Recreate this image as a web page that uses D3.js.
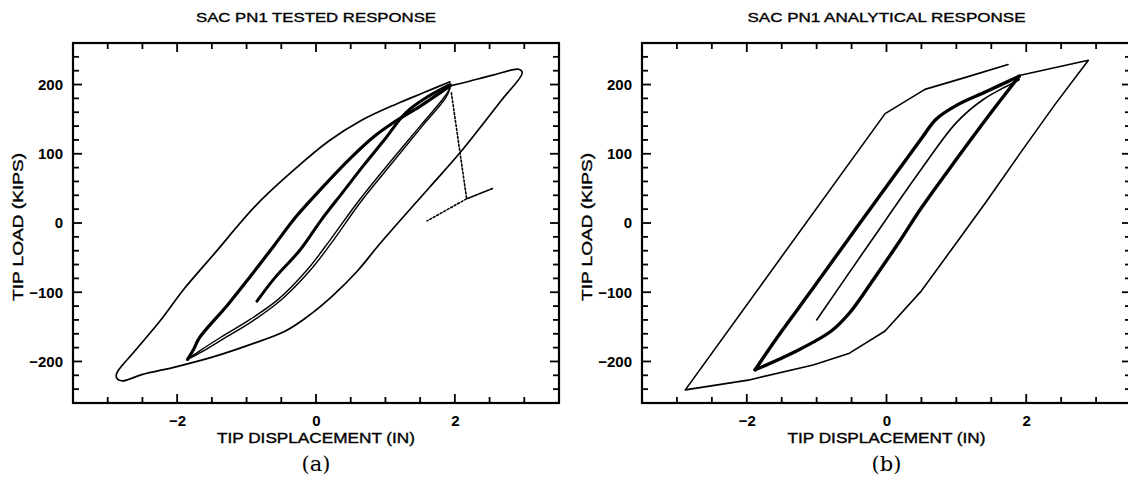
<!DOCTYPE html>
<html>
<head>
<meta charset="utf-8">
<script src="https://cdn.jsdelivr.net/npm/d3@7"></script>
<style>
  body { margin: 0; background: #fff; }
  svg { display: block; }
</style>
</head>
<body>
<svg id="chart" width="1128" height="492"></svg>
<script>
// ---- data: [tip displacement (in), tip load (kips)] ----

// (a) tested response
const testedOuter = [
  [1.93, 198], [2.14, 203], [2.56, 214], [2.92, 222], [2.97, 217], [2.66, 176],
  [2.07, 101], [1.63, 51], [0.92, -30], [0.59, -70], [0.23, -106], [-0.08, -132],
  [-0.44, -156], [-0.96, -176], [-1.47, -193], [-1.99, -207], [-2.51, -219],
  [-2.79, -228], [-2.87, -224], [-2.87, -217], [-2.61, -185], [-2.25, -142],
  [-1.89, -94], [-1.47, -45], [-0.85, 27], [-0.28, 80], [0.18, 118], [0.65, 148],
  [1.16, 172], [1.52, 187], [1.93, 204]
];
const testedLoop2Up = [
  [-1.85, -197], [-1.76, -182], [-1.68, -166], [-1.27, -118], [-0.96, -79],
  [-0.6, -32], [-0.28, 10], [0.08, 50], [0.49, 93], [0.85, 126], [1.16, 148],
  [1.52, 170], [1.93, 198]
];
const testedLoop2DownA = [
  [1.93, 195], [1.85, 182], [1.5, 140], [1.1, 92], [0.6, 30], [0.2, -25],
  [-0.13, -68], [-0.54, -110], [-0.96, -140], [-1.37, -165], [-1.68, -185], [-1.85, -197]
];
const testedLoop2DownB = [
  [1.93, 195], [1.87, 181], [1.53, 140], [1.14, 92], [0.64, 30], [0.25, -25],
  [-0.08, -68], [-0.49, -110], [-0.92, -142], [-1.33, -167], [-1.66, -187], [-1.85, -197]
];
const testedLoop1 = [
  [-0.85, -113], [-0.6, -80], [-0.23, -39], [0.08, 5], [0.39, 45], [0.7, 85],
  [1.0, 122], [1.3, 160], [1.6, 182], [1.93, 200]
];
const testedFailure = [[1.95, 188], [2.17, 35], [2.55, 50], [2.17, 35], [1.6, 3]];

// (b) analytical response
const analyticalOuter = [
  [1.9, 213], [2.89, 235], [2.41, 171], [1.95, 106], [1.43, 31], [1.02, -26],
  [0.5, -98], [-0.02, -156], [-0.53, -188], [-1.05, -205], [-1.98, -227],
  [-2.88, -241], [-0.02, 158], [0.55, 193], [1.12, 210], [1.74, 229]
];
const analyticalLoopUp = [
  [-1.88, -212], [-1.57, -166], [-1.05, -94], [-0.58, -28], [-0.12, 36],
  [0.5, 122], [0.71, 150], [1.02, 171], [1.43, 190], [1.9, 212]
];
const analyticalLoopDown = [
  [1.9, 212], [1.5, 160], [1.0, 92], [0.5, 22], [0.19, -26], [-0.17, -79],
  [-0.53, -130], [-0.79, -156], [-1.31, -186], [-1.88, -212]
];
const analyticalInner = [
  [-1.0, -140], [-0.22, -26], [0.5, 78], [1.0, 145], [1.38, 178], [1.69, 196], [1.9, 207]
];

// axes
const xDomain = [-3.5, 3.5];
const yDomain = [-260, 260];
const xMajor = [-2, 0, 2];
const xMinor = d3.range(-3.5, 3.51, 0.5);
const yMajor = [-200, -100, 0, 100, 200];
const yMinor = d3.range(-260, 261, 20);

const svg = d3.select("#chart");
const sans = "'Liberation Sans', Arial, sans-serif";

function drawPanel(opt) {
  const x = d3.scaleLinear().domain(xDomain).range([opt.left, opt.right]);
  const y = d3.scaleLinear().domain(yDomain).range([opt.bottom, opt.top]);
  const g = svg.append("g");

  // inward ticks on all four sides
  const ticks = g.append("g").attr("stroke", "#000").attr("stroke-width", 1.8);
  const xt = xMinor.map(v => ({ v, len: xMajor.includes(v) ? 9 : 6 }));
  const yt = yMinor.map(v => ({ v, len: yMajor.includes(v) ? 9 : 6 }));
  [opt.bottom, opt.top].forEach((edge, i) => {
    const dir = i === 0 ? -1 : 1;
    ticks.selectAll(null).data(xt).join("line")
      .attr("x1", d => x(d.v)).attr("x2", d => x(d.v))
      .attr("y1", edge).attr("y2", d => edge + dir * d.len);
  });
  [opt.left, opt.right].forEach((edge, i) => {
    const dir = i === 0 ? 1 : -1;
    ticks.selectAll(null).data(yt).join("line")
      .attr("y1", d => y(d.v)).attr("y2", d => y(d.v))
      .attr("x1", edge).attr("x2", d => edge + dir * d.len);
  });

  g.append("rect")
    .attr("x", opt.left).attr("y", opt.top)
    .attr("width", opt.right - opt.left).attr("height", opt.bottom - opt.top)
    .attr("fill", "none").attr("stroke", "#000").attr("stroke-width", 2.2);

  // tick labels
  const xl = g.append("g")
    .attr("transform", `translate(0,${opt.bottom})`)
    .call(d3.axisBottom(x).tickValues(xMajor).tickFormat(d3.format("d")).tickSize(0).tickPadding(12));
  const yl = g.append("g")
    .attr("transform", `translate(${opt.left},0)`)
    .call(d3.axisLeft(y).tickValues(yMajor).tickFormat(d3.format("d")).tickSize(0).tickPadding(10));
  [xl, yl].forEach(a => {
    a.select(".domain").remove();
    a.selectAll("text")
      .attr("fill", "#000")
      .style("font-family", sans)
      .style("font-size", "15px")
      .style("font-weight", "bold");
  });

  // titles, a touch heavier like the scanned lettering
  const label = sel => sel
    .attr("text-anchor", "middle")
    .attr("lengthAdjust", "spacingAndGlyphs")
    .attr("stroke", "#000").attr("stroke-width", 0.35)
    .style("font-family", sans);

  const cx = x(0);
  g.append("text").call(label)
    .attr("x", cx).attr("y", 22)
    .attr("textLength", opt.titleLen)
    .style("font-size", "13px")
    .text(opt.title);
  g.append("text").call(label)
    .attr("x", cx).attr("y", 443)
    .attr("textLength", 198)
    .style("font-size", "14px")
    .text("TIP DISPLACEMENT (IN)");
  g.append("text").call(label)
    .attr("transform", `translate(${opt.left - 50},${(opt.top + opt.bottom) / 2 + 4}) rotate(-90)`)
    .attr("textLength", 148)
    .style("font-size", "14px")
    .text("TIP LOAD (KIPS)");
  g.append("text")
    .attr("x", cx).attr("y", 471)
    .attr("text-anchor", "middle")
    .style("font-family", "'DejaVu Serif', 'Liberation Serif', serif")
    .style("font-size", "21px")
    .text(opt.tag);

  const line = d3.line().x(d => x(d[0])).y(d => y(d[1]));
  const plot = g.append("g");
  opt.series.forEach(s => {
    line.curve(s.curve || d3.curveLinear);
    plot.append("path")
      .datum(s.data)
      .attr("fill", "none")
      .attr("stroke", "#000")
      .attr("stroke-width", s.width)
      .attr("stroke-linejoin", "round")
      .attr("stroke-linecap", "round")
      .attr("stroke-dasharray", s.dash || null)
      .attr("d", line);
  });
}

drawPanel({
  left: 73, right: 559, top: 43, bottom: 403,
  title: "SAC PN1 TESTED RESPONSE", titleLen: 240, tag: "(a)",
  series: [
    { data: testedOuter, width: 1.7, curve: d3.curveCatmullRom },
    { data: testedLoop2Up, width: 3.2, curve: d3.curveCatmullRom },
    { data: testedLoop2DownA, width: 1.4, curve: d3.curveCatmullRom },
    { data: testedLoop2DownB, width: 1.4, curve: d3.curveCatmullRom },
    { data: testedLoop1, width: 3, curve: d3.curveCatmullRom },
    { data: testedFailure, width: 1.6, dash: "2 2" }
  ]
});

drawPanel({
  left: 642, right: 1131, top: 43, bottom: 403,
  title: "SAC PN1 ANALYTICAL RESPONSE", titleLen: 278, tag: "(b)",
  series: [
    { data: analyticalOuter, width: 1.6 },
    { data: analyticalLoopUp, width: 3.4, curve: d3.curveCatmullRom },
    { data: analyticalLoopDown, width: 3.4, curve: d3.curveCatmullRom },
    { data: analyticalInner, width: 1.6, curve: d3.curveCatmullRom }
  ]
});
</script>
</body>
</html>
